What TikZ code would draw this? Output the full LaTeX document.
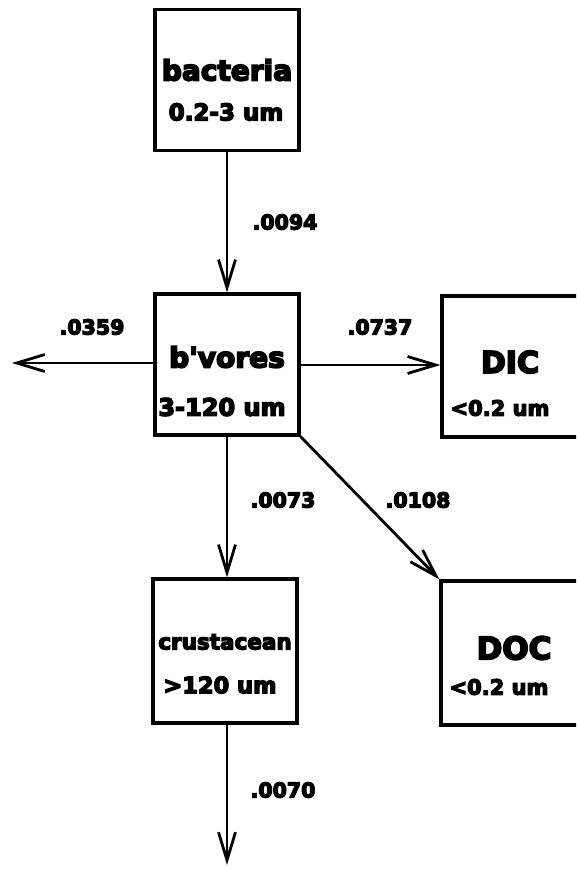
\documentclass[tikz,border=0pt]{standalone}
\usepackage{fontspec}
\usetikzlibrary{arrows.meta}
\newfontfamily\heavy{DejaVu Sans Bold}[FakeBold=6]
\newcommand\fs[1]{\heavy\fontsize{#1}{#1}\selectfont}
\tikzset{
  box/.style={draw, line width=3.2pt, minimum width=144pt, minimum height=141pt, inner sep=0pt},
  txt/.style={inner sep=0pt},
  num/.style={font=\fs{20.5}, inner sep=0pt},
  flow/.style={line width=2.8pt, -{Straight Barb[length=28pt, width=17pt, line width=2.8pt]}}
}
\begin{document}
\begin{tikzpicture}[x=1pt, y=-1pt]
\useasboundingbox (0,0) rectangle (576,869);
\clip (0,0) rectangle (576,869);
% boxes
\node[box] (bact) at (227,80) {};
\node[box] (bv) at (227,364.5) {};
\node[box, minimum width=150pt] (dic) at (517,366.5) {};
\node[box, minimum height=144pt] (crus) at (225,651) {};
\node[box, minimum width=150pt, minimum height=144pt] (doc) at (516,653) {};
% box texts
\node[txt, font=\fs{28}] (t1) at (227,70) {bacteria};
\node[txt, font=\fs{23}] (t2) at (226,112) {0.2-3 um};
\node[txt, font=\fs{28}] (t3) at (227,357) {b'vores};
\node[txt, font=\fs{24}] (t4) at (222,407) {3-120 um};
\node[txt, font=\fs{30}] (t5) at (510,362) {DIC};
\node[txt, font=\fs{21}] (t6) at (500,408) {<0.2 um};
\node[txt, font=\fs{21.5}] (t7) at (225,642) {crustacean};
\node[txt, font=\fs{22.5}] (t8) at (220,685) {>120 um};
\node[txt, font=\fs{31}] (t9) at (514,648) {DOC};
\node[txt, font=\fs{21}] (t10) at (499,687) {<0.2 um};
% free ends
\coordinate (leftend) at (12,363);
\coordinate (downend) at (227,865);
% arrows
\draw[flow] (bact.south) -- (bv.north);
\draw[flow] (bv.west |- 0,363) -- (leftend);
\draw[flow] (bv.east |- 0,365) -- (dic.west |- 0,365);
\draw[flow] (bv.south) -- (crus.north -| bv.south);
\draw[flow] (bv.south east) -- (doc.north west);
\draw[flow] (crus.south -| downend) -- (downend);
% flow labels
\node[num] (n1) at (285,222) {.0094};
\node[num] (n2) at (92,327) {.0359};
\node[num] (n3) at (380,327) {.0737};
\node[num] (n4) at (283,500) {.0073};
\node[num] (n5) at (418,500) {.0108};
\node[num] (n6) at (283,790) {.0070};
\end{tikzpicture}
\end{document}
